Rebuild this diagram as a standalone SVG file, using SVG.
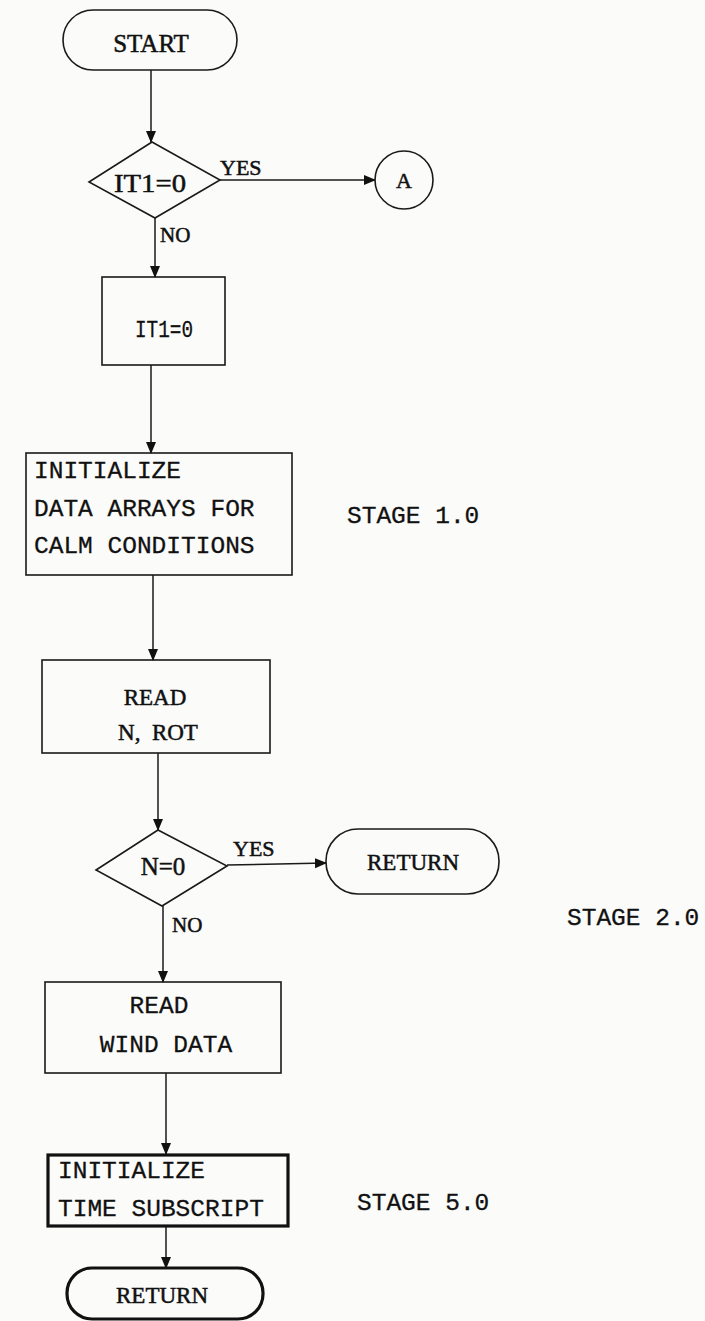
<svg xmlns="http://www.w3.org/2000/svg" width="705" height="1321" viewBox="0 0 705 1321">
<style>
.shape{fill:none;stroke:#1a1a1a;stroke-width:1.6}
.thick{fill:none;stroke:#111;stroke-width:3.2}
.conn{stroke:#1a1a1a;stroke-width:1.5;fill:none}
.serif{font-family:"Liberation Serif","Times New Roman",serif;fill:#111;stroke:#111;stroke-width:0.5}
.mono{font-family:"Liberation Mono","Courier New",monospace;fill:#111;font-size:24.5px;stroke:#111;stroke-width:0.3}
</style>
<defs>
<marker id="arr" viewBox="0 0 12 12" refX="11" refY="6" markerWidth="12" markerHeight="12" markerUnits="userSpaceOnUse" orient="auto">
<path d="M0,1 L12,6 L0,11 Z" fill="#111"/>
</marker>
</defs>
<rect width="705" height="1321" fill="#fbfbfa"/>
<g id="connectors">
<line class="conn" x1="151" y1="70" x2="151" y2="142" marker-end="url(#arr)"/>
<line class="conn" x1="220" y1="180" x2="375" y2="180" marker-end="url(#arr)"/>
<line class="conn" x1="155" y1="218" x2="155" y2="277" marker-end="url(#arr)"/>
<line class="conn" x1="151" y1="365" x2="151" y2="453" marker-end="url(#arr)"/>
<line class="conn" x1="153" y1="575" x2="153" y2="660" marker-end="url(#arr)"/>
<line class="conn" x1="158" y1="753" x2="158" y2="830" marker-end="url(#arr)"/>
<line class="conn" x1="227" y1="865" x2="326" y2="863" marker-end="url(#arr)"/>
<line class="conn" x1="163" y1="906" x2="163" y2="982" marker-end="url(#arr)"/>
<line class="conn" x1="166" y1="1073" x2="166" y2="1154" marker-end="url(#arr)"/>
<line class="conn" x1="166" y1="1227" x2="166" y2="1268" marker-end="url(#arr)"/>
<text class="serif" x="220" y="175" font-size="22">YES</text>
<text class="serif" x="160" y="242" font-size="21">NO</text>
<text class="serif" x="233" y="856" font-size="22">YES</text>
<text class="serif" x="172" y="932" font-size="21">NO</text>
</g>
<g id="start">
<rect class="shape" x="63" y="10" width="174" height="60" rx="30"/>
<text class="serif" x="151" y="52" font-size="25" text-anchor="middle">START</text>
</g>
<g id="decision-it1">
<polygon class="shape" points="152,142 220,180 155,218 89,182"/>
<text class="serif" x="150" y="192" font-size="26" text-anchor="middle" textLength="72" lengthAdjust="spacingAndGlyphs">IT1=0</text>
</g>
<g id="connector-a">
<circle class="shape" cx="404" cy="180" r="29"/>
<text class="serif" x="404" y="188" font-size="22" text-anchor="middle">A</text>
</g>
<g id="set-it1">
<rect class="shape" x="102" y="277" width="123" height="88"/>
<text class="mono" x="164" y="337" font-size="23" text-anchor="middle" textLength="58" lengthAdjust="spacingAndGlyphs">IT1=0</text>
</g>
<g id="init-data">
<rect class="shape" x="26" y="453" width="266" height="122"/>
<text class="mono" x="34" y="478">INITIALIZE</text>
<text class="mono" x="34" y="516">DATA ARRAYS FOR</text>
<text class="mono" x="34" y="553">CALM CONDITIONS</text>
</g>
<text id="stage1" class="mono" x="347" y="523">STAGE 1.0</text>
<g id="read-n-rot">
<rect class="shape" x="42" y="660" width="228" height="93"/>
<text class="serif" x="155" y="705" font-size="23" text-anchor="middle">READ</text>
<text class="serif" x="158" y="740" font-size="23" text-anchor="middle" xml:space="preserve">N,  ROT</text>
</g>
<g id="decision-n">
<polygon class="shape" points="158,830 227,866 162,906 96,870"/>
<text class="serif" x="163" y="875" font-size="25" text-anchor="middle">N=0</text>
</g>
<g id="return1">
<rect class="shape" x="326" y="829" width="173" height="65" rx="32"/>
<text class="serif" x="413" y="870" font-size="23" text-anchor="middle">RETURN</text>
</g>
<text id="stage2" class="mono" x="567" y="925">STAGE 2.0</text>
<g id="read-wind">
<rect class="shape" x="45" y="982" width="236" height="91"/>
<text class="mono" x="159" y="1013" text-anchor="middle">READ</text>
<text class="mono" x="166" y="1052" text-anchor="middle">WIND DATA</text>
</g>
<g id="init-time">
<rect class="thick" x="48" y="1155" width="240" height="71"/>
<text class="mono" x="58" y="1178">INITIALIZE</text>
<text class="mono" x="58" y="1216">TIME SUBSCRIPT</text>
</g>
<text id="stage5" class="mono" x="357" y="1210">STAGE 5.0</text>
<g id="return2">
<rect class="thick" x="67" y="1268" width="196" height="51" rx="25" stroke-width="2.4"/>
<text class="serif" x="162" y="1303" font-size="23" text-anchor="middle">RETURN</text>
</g>
</svg>
